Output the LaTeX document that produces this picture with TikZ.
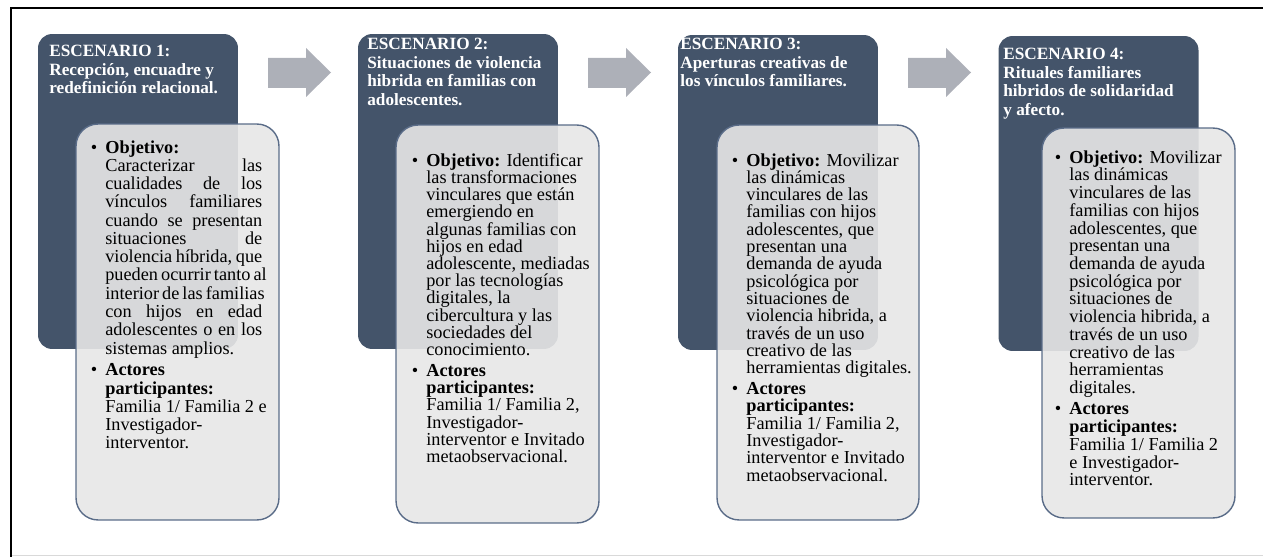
\documentclass[tikz,border=0pt]{standalone}
\usepackage{fontspec}
\setmainfont{Liberation Serif}
\definecolor{scdark}{HTML}{44546A}
\definecolor{sclight}{HTML}{E7E7E7}
\definecolor{scline}{HTML}{5A6C88}
\definecolor{scarrow}{HTML}{ADB0B8}
\tikzset{
  darkbox/.style={fill=scdark, rounded corners=0.28cm, inner sep=0pt, minimum width=4cm, minimum height=6.3cm},
  lightbox/.style={fill=sclight, fill opacity=.9, draw=scline, line width=0.8pt, rounded corners=0.44cm, inner sep=0pt},
  headtxt/.style={text=white, font=\bfseries\fontsize{9.8}{10.5}\selectfont, align=left, anchor=north west, inner sep=0pt},
  bodytxt/.style={font=\fontsize{10.4}{#1}\selectfont, align=left, anchor=north west, inner sep=0pt},
  bodytxt/.default=10.25,
}
\newcommand{\bul}{\llap{\textbullet\hspace{0.16cm}}}
\newcommand{\jline}[1]{\makebox[3.14cm][s]{#1}}
\begin{document}
\begin{tikzpicture}[x=0.02cm,y=-0.02cm]
\useasboundingbox (0,0) rectangle (1263,557);
% frame
\draw[line width=1.3pt] (11,557) -- (11,8) -- (1263,8);
\draw[black!15] (12,555) -- (1263,555);

% arrows
\foreach \x in {268,588,908}
  \fill[scarrow] (\x,58) -- ++(38,0) -- ++(0,-10) -- ++(25,24.5) -- ++(-25,24.5) -- ++(0,-9) -- ++(-38,0) -- cycle;

% scenario boxes
\node[darkbox] (sc1) at (138,191.5) {};
\node[darkbox] (sc2) at (458,191.5) {};
\node[darkbox] (sc3) at (778,192.5) {};
\node[darkbox] (sc4) at (1098.5,193.5) {};

\node[headtxt] (h1) at (49,45) {ESCENARIO 1:\\Recepción, encuadre y\\redefinición relacional.};
\node[headtxt] (h2) at (367,38) {ESCENARIO 2:\\Situaciones de violencia\\hibrida en familias con\\adolescentes.};
\node[headtxt] (h3) at (680,38) {ESCENARIO 3:\\Aperturas creativas de\\los vínculos familiares.};
\node[headtxt] (h4) at (1003,48) {ESCENARIO 4:\\Rituales familiares\\hibridos de solidaridad\\y afecto.};

% objective boxes
\node[lightbox, minimum width=4.06cm, minimum height=7.92cm] (ob1) at (177.5,322) {};
\node[lightbox, minimum width=4.06cm, minimum height=7.96cm] (ob2) at (497.5,324) {};
\node[lightbox, minimum width=4.04cm, minimum height=7.9cm] (ob3) at (818,322.5) {};
\node[lightbox, minimum width=3.86cm, minimum height=7.8cm] (ob4) at (1138.5,323) {};

\node[bodytxt=10.4] (t1) at (105,140) {\bul\textbf{Objetivo:}\\
\jline{Caracterizar las}\\
\jline{cualidades de los}\\
\jline{vínculos familiares}\\
\jline{cuando se presentan}\\
\jline{situaciones de}\\
\jline{violencia híbrida, que}\\
\jline{pueden ocurrir tanto al}\\
\jline{interior de las familias}\\
\jline{con hijos en edad}\\
\jline{adolescentes o en los}\\
sistemas amplios.\\[2pt]
\bul\textbf{Actores}\\
\textbf{participantes:}\\
Familia 1/ Familia 2 e\\
Investigador-\\
interventor.};

\node[bodytxt=9.8] (t2) at (426,153) {\bul\textbf{Objetivo:} Identificar\\
las transformaciones\\
vinculares que están\\
emergiendo en\\
algunas familias con\\
hijos en edad\\
adolescente, mediadas\\
por las tecnologías\\
digitales, la\\
cibercultura y las\\
sociedades del\\
conocimiento.\\[2pt]
\bul\textbf{Actores}\\
\textbf{participantes:}\\
Familia 1/ Familia 2,\\
Investigador-\\
interventor e Invitado\\
metaobservacional.};

\node[bodytxt=9.85] (t3) at (746,153) {\bul\textbf{Objetivo:} Movilizar\\
las dinámicas\\
vinculares de las\\
familias con hijos\\
adolescentes, que\\
presentan una\\
demanda de ayuda\\
psicológica por\\
situaciones de\\
violencia hibrida, a\\
través de un uso\\
creativo de las\\
herramientas digitales.\\[2pt]
\bul\textbf{Actores}\\
\textbf{participantes:}\\
Familia 1/ Familia 2,\\
Investigador-\\
interventor e Invitado\\
metaobservacional.};

\node[bodytxt=10.1] (t4) at (1069,150) {\bul\textbf{Objetivo:} Movilizar\\
las dinámicas\\
vinculares de las\\
familias con hijos\\
adolescentes, que\\
presentan una\\
demanda de ayuda\\
psicológica por\\
situaciones de\\
violencia hibrida, a\\
través de un uso\\
creativo de las\\
herramientas\\
digitales.\\[2pt]
\bul\textbf{Actores}\\
\textbf{participantes:}\\
Familia 1/ Familia 2\\
e Investigador-\\
interventor.};
\end{tikzpicture}
\end{document}
